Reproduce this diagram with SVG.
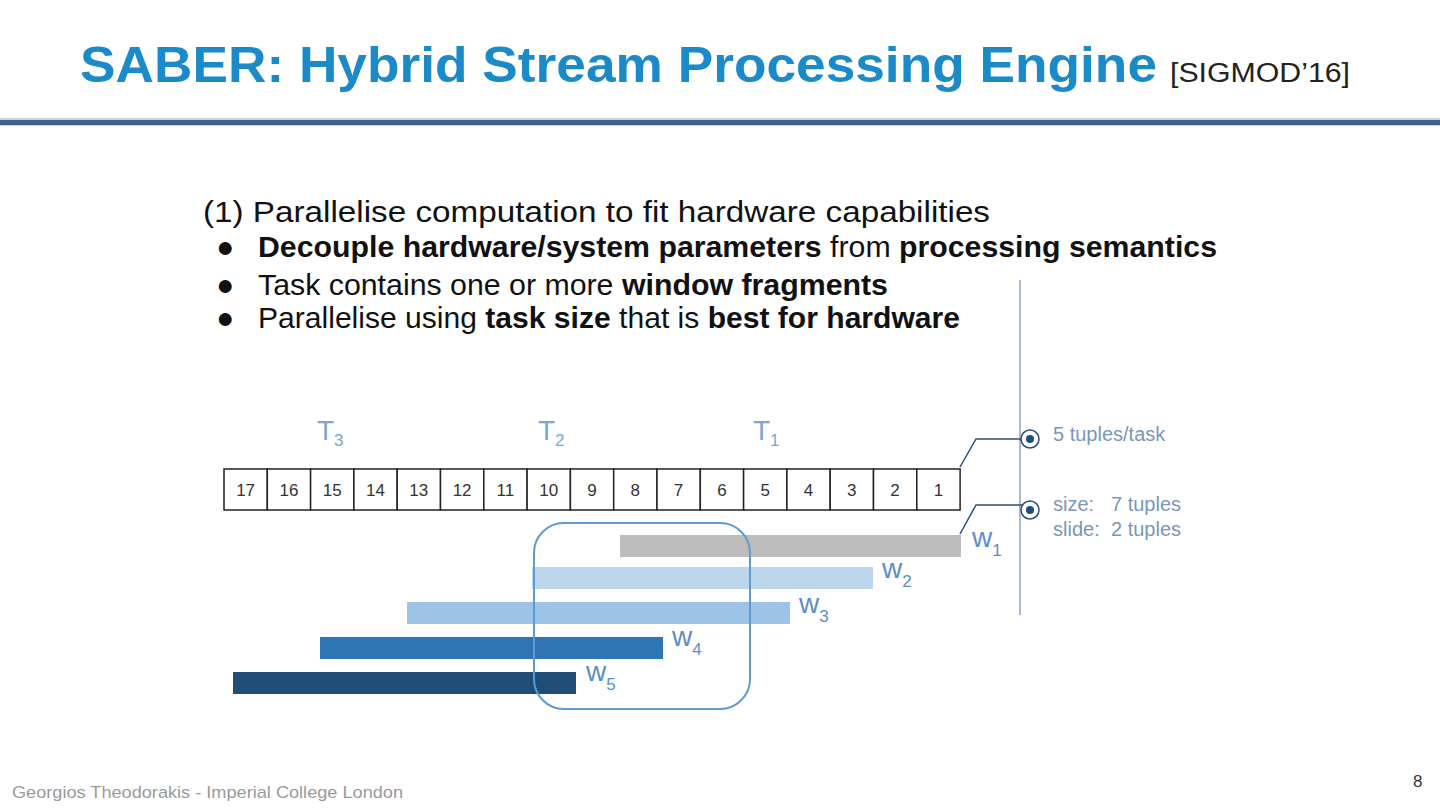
<svg xmlns="http://www.w3.org/2000/svg" width="1440" height="810" viewBox="0 0 1440 810">
<style>
text{font-family:"Liberation Sans",Arial,sans-serif}
.cell{fill:#fff;stroke:#222;stroke-width:1.5}
.num{font-size:17px;fill:#333;text-anchor:middle}
.t{font-size:28px;fill:#7aa7d6}
.ts{font-size:17px;fill:#7aa7d6}
.w{font-size:28px;fill:#5b8ec8}
.ws{font-size:17px;fill:#5b8ec8}
.body{font-size:30px;fill:#111}
.lab{font-size:20px;fill:#7a96ba}
.conn{fill:none;stroke:#2a4f7a;stroke-width:1.5}
</style>
<rect width="1440" height="810" fill="#fff"/>
<text x="80" y="82" font-size="50" font-weight="bold" fill="#1a8ac9" textLength="1077" lengthAdjust="spacingAndGlyphs">SABER: Hybrid Stream Processing Engine</text>
<text x="1170" y="82" font-size="27" fill="#222" textLength="180" lengthAdjust="spacingAndGlyphs">[SIGMOD’16]</text>
<rect x="0" y="118" width="1440" height="8" fill="#c8d4e4"/>
<rect x="0" y="120" width="1440" height="5" fill="#3f5f8f"/>

<text x="203" y="222" class="body" textLength="787" lengthAdjust="spacingAndGlyphs">(1) Parallelise computation to fit hardware capabilities</text>
<text x="216" y="257" class="body" font-size="26">●</text>
<text x="258" y="257" class="body" textLength="959" lengthAdjust="spacingAndGlyphs"><tspan font-weight="bold">Decouple hardware/system parameters</tspan> from <tspan font-weight="bold">processing semantics</tspan></text>
<text x="216" y="295" class="body" font-size="26">●</text>
<text x="258" y="295" class="body" textLength="630" lengthAdjust="spacingAndGlyphs">Task contains one or more <tspan font-weight="bold">window fragments</tspan></text>
<text x="216" y="328" class="body" font-size="26">●</text>
<text x="258" y="328" class="body" textLength="702" lengthAdjust="spacingAndGlyphs">Parallelise using <tspan font-weight="bold">task size</tspan> that is <tspan font-weight="bold">best for hardware</tspan></text>

<line x1="1020" y1="280" x2="1020" y2="615" stroke="#8ea6c4" stroke-width="1.5"/>

<g id="tasks">
<text x="317" y="440" class="t">T<tspan class="ts" dy="6">3</tspan></text>
<text x="538" y="440" class="t">T<tspan class="ts" dy="6">2</tspan></text>
<text x="753" y="440" class="t">T<tspan class="ts" dy="6">1</tspan></text>
</g>

<g id="stream">
<rect class="cell" x="224" y="469" width="43.3" height="41"/>
<rect class="cell" x="267.3" y="469" width="43.3" height="41"/>
<rect class="cell" x="310.6" y="469" width="43.3" height="41"/>
<rect class="cell" x="353.9" y="469" width="43.3" height="41"/>
<rect class="cell" x="397.2" y="469" width="43.3" height="41"/>
<rect class="cell" x="440.5" y="469" width="43.3" height="41"/>
<rect class="cell" x="483.8" y="469" width="43.3" height="41"/>
<rect class="cell" x="527.1" y="469" width="43.3" height="41"/>
<rect class="cell" x="570.4" y="469" width="43.3" height="41"/>
<rect class="cell" x="613.7" y="469" width="43.3" height="41"/>
<rect class="cell" x="657" y="469" width="43.3" height="41"/>
<rect class="cell" x="700.3" y="469" width="43.3" height="41"/>
<rect class="cell" x="743.6" y="469" width="43.3" height="41"/>
<rect class="cell" x="786.9" y="469" width="43.3" height="41"/>
<rect class="cell" x="830.2" y="469" width="43.3" height="41"/>
<rect class="cell" x="873.5" y="469" width="43.3" height="41"/>
<rect class="cell" x="916.8" y="469" width="43.3" height="41"/>
<text class="num" x="245.6" y="496">17</text>
<text class="num" x="288.9" y="496">16</text>
<text class="num" x="332.2" y="496">15</text>
<text class="num" x="375.5" y="496">14</text>
<text class="num" x="418.8" y="496">13</text>
<text class="num" x="462.1" y="496">12</text>
<text class="num" x="505.4" y="496">11</text>
<text class="num" x="548.7" y="496">10</text>
<text class="num" x="592" y="496">9</text>
<text class="num" x="635.3" y="496">8</text>
<text class="num" x="678.6" y="496">7</text>
<text class="num" x="721.9" y="496">6</text>
<text class="num" x="765.2" y="496">5</text>
<text class="num" x="808.5" y="496">4</text>
<text class="num" x="851.8" y="496">3</text>
<text class="num" x="895.1" y="496">2</text>
<text class="num" x="938.4" y="496">1</text>
</g>

<g id="windows">
<rect x="620" y="535" width="341" height="22" fill="#bdbdbd"/>
<rect x="532" y="567" width="341" height="22" fill="#bcd6ee"/>
<rect x="407" y="602" width="383" height="22" fill="#9dc3e6"/>
<rect x="320" y="637" width="343" height="22" fill="#2e75b6"/>
<rect x="233" y="672" width="343" height="22" fill="#1f4e79"/>
<text x="972" y="547" class="w">w<tspan class="ws" dy="9">1</tspan></text>
<text x="882" y="578" class="w">w<tspan class="ws" dy="9">2</tspan></text>
<text x="799" y="613" class="w">w<tspan class="ws" dy="9">3</tspan></text>
<text x="672" y="646" class="w">w<tspan class="ws" dy="9">4</tspan></text>
<text x="586" y="681" class="w">w<tspan class="ws" dy="9">5</tspan></text>
</g>

<g id="task-box">
<rect x="534" y="523" width="216" height="186" rx="30" fill="none" stroke="#5d9bd0" stroke-width="2"/>
</g>

<g id="connectors">
<polyline class="conn" points="960,467 976,439 1022,439"/>
<polyline class="conn" points="960,534 976,505 1022,505"/>
</g>

<g id="legend-task">
<circle cx="1030" cy="439" r="9" fill="#fff" stroke="#2a4f7a" stroke-width="1.5"/>
<circle cx="1030" cy="439" r="4" fill="#1f4e79"/>
<text x="1053" y="441" class="lab">5 tuples/task</text>
</g>
<g id="legend-window">
<circle cx="1030" cy="510" r="9" fill="#fff" stroke="#2a4f7a" stroke-width="1.5"/>
<circle cx="1030" cy="510" r="4" fill="#1f4e79"/>
<text x="1053" y="511" class="lab">size:<tspan x="1111">7 tuples</tspan></text>
<text x="1053" y="536" class="lab">slide:<tspan x="1111">2 tuples</tspan></text>
</g>

<text x="12" y="798" font-size="17" fill="#9a9a9a" textLength="391" lengthAdjust="spacingAndGlyphs">Georgios Theodorakis - Imperial College London</text>
<text x="1413" y="787" font-size="17" fill="#333">8</text>
</svg>
